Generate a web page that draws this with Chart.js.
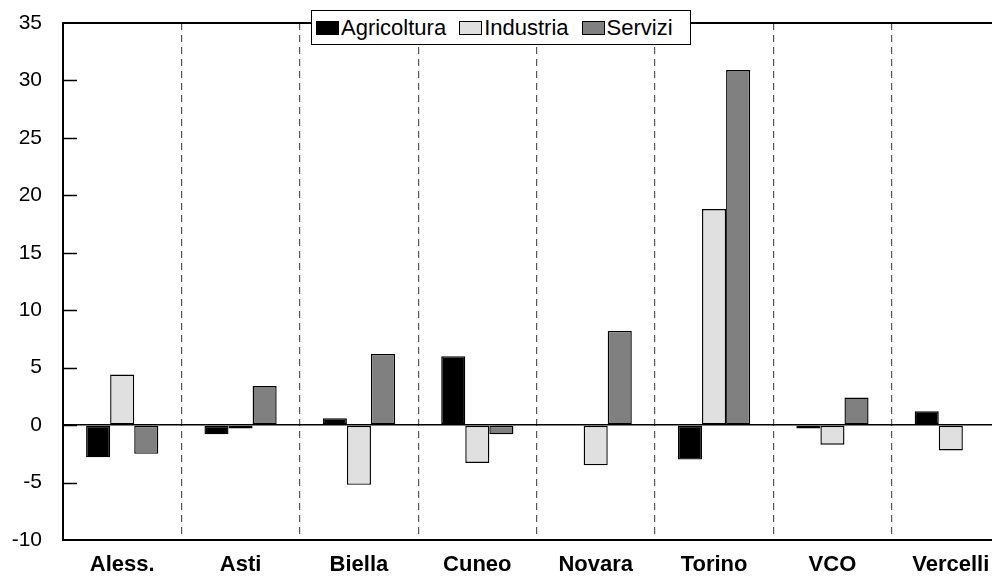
<!DOCTYPE html>
<html>
<head>
<meta charset="utf-8">
<script src="https://cdn.jsdelivr.net/npm/chart.js@4"></script>
<style>
    html, body { margin: 0; padding: 0; background: #fff; overflow: hidden; }
    #wrap { position: relative; width: 1010px; height: 581px; }
    #legend {
        position: absolute; left: 311px; top: 10px; width: 374px; height: 33px;
        border: 1px solid #000; background: #fff;
        display: flex; align-items: center; padding-left: 4px; white-space: nowrap;
        font-family: 'Liberation Sans', Arial, sans-serif; font-size: 22px; color: #000;
    }
    #legend .sw { display: inline-block; width: 21px; height: 12px; border: 1px solid #000; margin-right: 2px; }
    #legend .it { margin-right: 13px; display: flex; align-items: center; }
</style>
</head>
<body>
<div id="wrap">
    <canvas id="chart" width="1010" height="581"></canvas>
    <div id="legend"></div>
</div>
<script>
// dati per provincia
const categories = ['Aless.', 'Asti', 'Biella', 'Cuneo', 'Novara', 'Torino', 'VCO', 'Vercelli'];
const agricoltura = [-2.8, -0.8, 0.6, 6.0, -0.05, -3.0, -0.3, 1.2];
const industria = [4.4, -0.3, -5.2, -3.3, -3.5, 18.8, -1.7, -2.2];
const servizi = [-2.5, 3.4, 6.2, -0.8, 8.2, 30.9, 2.4, 0];
const seriesNames = ['Agricoltura', 'Industria', 'Servizi'];
const seriesColors = ['#000000', '#e0e0e0', '#808080'];
const yTicks = { min: -10, max: 35, step: 5 };

const FONT = "'Liberation Sans', Arial, sans-serif";

const datasets = [agricoltura, industria, servizi].map((d, i) => ({
    label: seriesNames[i],
    data: d,
    backgroundColor: seriesColors[i],
    borderColor: '#000',
    borderWidth: 1.4,
    borderSkipped: false,
    categoryPercentage: 0.61,
    barPercentage: 1.0
}));

// tacche dell'asse y rivolte verso l'interno
const innerTicks = {
    id: 'innerTicks',
    afterDraw(chart) {
        const y = chart.scales.y;
        const left = chart.chartArea.left;
        const ctx = chart.ctx;
        ctx.save();
        ctx.strokeStyle = '#000000';
        ctx.lineWidth = 1.5;
        ctx.setLineDash([]);
        ctx.beginPath();
        for (const t of y.ticks) {
            if (t.value >= yTicks.max || t.value <= yTicks.min) continue;
            const py = Math.round(y.getPixelForValue(t.value)) + 0.5;
            ctx.moveTo(left, py);
            ctx.lineTo(left + 14, py);
        }
        ctx.stroke();
        ctx.restore();
    }
};

new Chart(document.getElementById('chart'), {
    type: 'bar',
    data: { labels: categories, datasets },
    options: {
        responsive: false,
        animation: false,
        layout: { padding: { top: 23, right: 0, left: 0, bottom: 0 } },
        scales: {
            x: {
                offset: true,
                grid: {
                    offset: true,
                    color: '#555',
                    lineWidth: 1.2,
                    drawTicks: false
                },
                border: { display: true, color: '#000', width: 2, dash: [7, 5] },
                ticks: { color: '#000', padding: 12, font: { family: FONT, size: 22, weight: 'bold' } },
                afterFit: s => { s.height = 41; s.paddingLeft = 0; s.paddingRight = 0; }
            },
            y: {
                min: yTicks.min,
                max: yTicks.max,
                ticks: { stepSize: yTicks.step, color: '#000', padding: 21, font: { family: FONT, size: 21 } },
                grid: {
                    color: c => (c.tick && (c.tick.value === 0 || c.tick.value === yTicks.max)) ? '#000' : 'rgba(0,0,0,0)',
                    drawTicks: false,
                    lineWidth: c => (c.tick && c.tick.value === yTicks.max) ? 2 : 1.4
                },
                border: { color: '#000', width: 2 },
                afterFit: s => { s.width = 63; s.paddingTop = 0; s.paddingBottom = 0; }
            }
        },
        plugins: {
            legend: { display: false },
            tooltip: { enabled: false }
        }
    },
    plugins: [innerTicks]
});

const legend = document.getElementById('legend');
seriesNames.forEach((n, i) => {
    const it = document.createElement('span');
    it.className = 'it';
    it.innerHTML = '<span class="sw" style="background:' + seriesColors[i] + '"></span>' + n;
    legend.appendChild(it);
});
</script>
</body>
</html>
